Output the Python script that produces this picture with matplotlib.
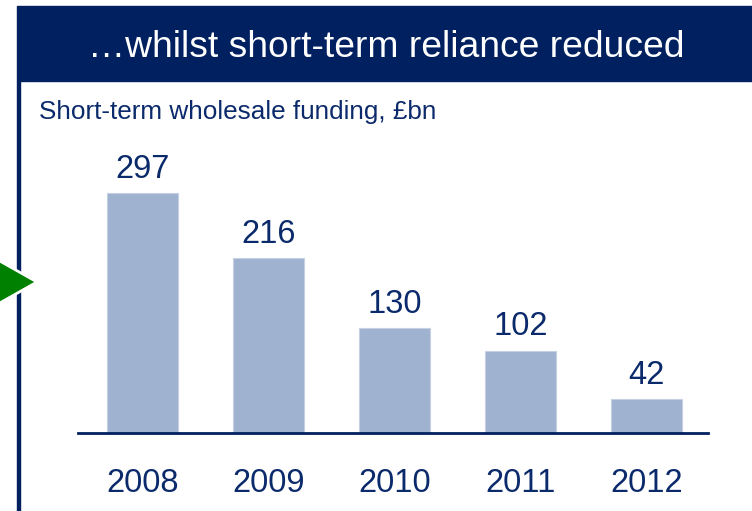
import matplotlib.pyplot as plt
from matplotlib.patches import Rectangle, Polygon

plt.rcParams['font.family'] = ['Liberation Sans', 'DejaVu Sans']

years = ['2008', '2009', '2010', '2011', '2012']
funding = [297, 216, 130, 102, 42]

navy = '#002060'
text_col = '#0b2a6b'
bar_col = '#9fb2cf'

fig = plt.figure(figsize=(7.52, 5.11), dpi=100)
W, H = 752, 511

def fx(x):
    return x / W

def fy(y):
    return 1 - y / H

# header band and left rule
fig.patches.append(Rectangle((fx(17), fy(81)), fx(752 - 17), 75 / H,
                             transform=fig.transFigure, color=navy, zorder=0))
fig.patches.append(Rectangle((fx(17), 0), 3 / W, fy(81),
                             transform=fig.transFigure, color=navy, zorder=0))
# green pointer with white halo over the rule
fig.patches.append(Polygon([(fx(-2), fy(260)), (fx(37), fy(282)), (fx(-2), fy(304))],
                           closed=True, transform=fig.transFigure,
                           facecolor='#008000', edgecolor='white', linewidth=2, zorder=2))

fig.text(fx(386), fy(57), '\u2026whilst short-term reliance reduced', color='white',
         fontsize=26.8, ha='center', va='baseline')
fig.text(fx(39), fy(119), 'Short-term wholesale funding, \u00a3bn', color=text_col,
         fontsize=18.8, ha='left', va='baseline')

ax = fig.add_axes([fx(78), fy(433), 630 / W, 283 / H])
x = range(len(years))
bars = ax.bar(x, funding, width=0.565, color=bar_col, edgecolor='#c5d1e3', linewidth=0.8)
for xi, v in zip(x, funding):
    ax.annotate(str(v), (xi, v), xytext=(0, 11), textcoords='offset points',
                ha='center', va='baseline', fontsize=23.5, color=text_col)

ax.set_xlim(-0.51, 4.49)
ax.set_ylim(0, 350)
ax.set_xticks(list(x))
ax.set_xticklabels(years, fontsize=23.5, color=text_col)
ax.tick_params(axis='x', length=0, pad=25)
ax.set_yticks([])
for side in ['top', 'right', 'left']:
    ax.spines[side].set_visible(False)
ax.spines['bottom'].set_color(navy)
ax.spines['bottom'].set_linewidth(2)

fig.savefig('out.png', dpi=100)
